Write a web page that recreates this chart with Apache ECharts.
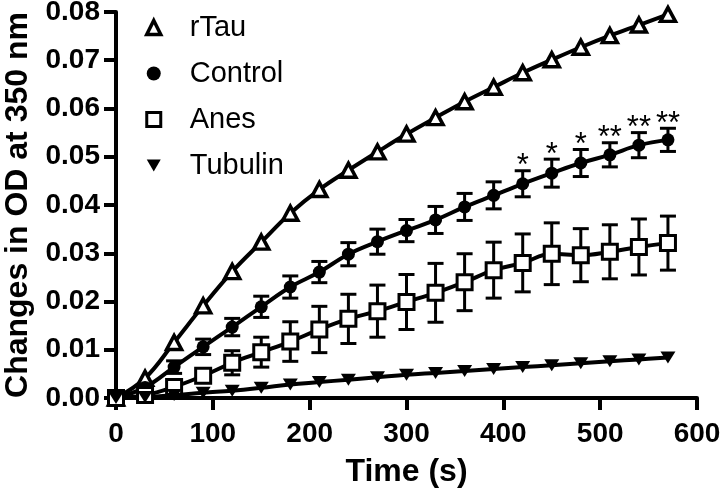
<!DOCTYPE html>
<html><head><meta charset="utf-8">
<script src="https://cdn.jsdelivr.net/npm/echarts@6/dist/echarts.min.js"></script>
<style>html,body{margin:0;padding:0;background:#fff}#c{width:720px;height:492px}</style>
</head><body><div id="c"></div>
<script>
const times = [0,30,60,90,120,150,180,210,240,270,300,330,360,390,420,450,480,510,540,570];
const xTicks = [0,100,200,300,400,500,600];
const yTicks = [0,0.01,0.02,0.03,0.04,0.05,0.06,0.07,0.08];
const rTau = [0,0.0041,0.0115,0.0191,0.0262,0.0323,0.0383,0.0432,0.0472,0.0510,0.0547,0.0581,0.0614,0.0644,0.0674,0.0701,0.0727,0.0751,0.0773,0.0795];
const control = [0,0.0022,0.0064,0.0106,0.0147,0.0189,0.0230,0.0261,0.0298,0.0324,0.0347,0.0369,0.0396,0.0420,0.0444,0.0466,0.0487,0.0504,0.0524,0.0535];
const controlErr = [0,0.0005,0.0013,0.0016,0.0018,0.0022,0.0023,0.0022,0.0024,0.0026,0.0023,0.0028,0.0028,0.0028,0.0027,0.0029,0.0028,0.0025,0.0026,0.0024];
const anes = [0,0.0006,0.0023,0.0046,0.0073,0.0095,0.0117,0.0142,0.0164,0.0180,0.0199,0.0218,0.0240,0.0265,0.0280,0.0299,0.0296,0.0303,0.0313,0.0321];
const anesErr = [0,0.0005,0.0007,0.0012,0.0025,0.0031,0.0041,0.0048,0.0051,0.0054,0.0057,0.0061,0.0059,0.0058,0.0060,0.0064,0.0055,0.0056,0.0058,0.0056];
const tubulin = [0,0.0002,0.0006,0.0011,0.0015,0.0021,0.0028,0.0033,0.0038,0.0043,0.0048,0.0052,0.0056,0.0060,0.0064,0.0068,0.0072,0.0076,0.0080,0.0084];
const starTimes = [420,450,480,510,540,570];
const starText = ['*','*','*','**','**','**'];

const FONT = 'Liberation Sans, Arial, sans-serif';
const chart = echarts.init(document.getElementById('c'), null, {renderer:'canvas'});
function pairs(v){ return times.map((t,i)=>[t, v[i]]); }
function errData(v,e){ return times.map((t,i)=>[t, v[i], e[i]]); }
function errRender(params, api){
  const x = api.value(0), y = api.value(1), e = api.value(2);
  if(!e) return null;
  const top = api.coord([x, y+e]), bot = api.coord([x, y-e]);
  const hw = 8;
  const st = {stroke:'#000', lineWidth:3};
  return {type:'group', children:[
    {type:'line', shape:{x1:top[0],y1:top[1],x2:bot[0],y2:bot[1]}, style:st},
    {type:'line', shape:{x1:top[0]-hw,y1:top[1],x2:top[0]+hw,y2:top[1]}, style:st},
    {type:'line', shape:{x1:bot[0]-hw,y1:bot[1],x2:bot[0]+hw,y2:bot[1]}, style:st}
  ]};
}
const starData = starTimes.map(t => { const i = times.indexOf(t); return [t, control[i] + controlErr[i]]; });
function starRender(params, api){
  const p = api.coord([api.value(0), api.value(1)]);
  return {type:'text', style:{text: starText[params.dataIndex], x:p[0], y:p[1]-4, align:'center', verticalAlign:'middle', font:'31px ' + FONT, fill:'#000'}};
}
function fit(name, v){
  return {name: name + ' fit', type:'line', data: pairs(v), smooth:0.4, showSymbol:false, symbol:'none', clip:false,
    lineStyle:{color:'#000', width:4}, z:2, silent:true, legendHoverLink:false};
}
function marks(name, v, symbol, size, style, rot){
  return {name:name, type:'scatter', data: pairs(v), symbol:symbol, symbolSize:size, symbolRotate: rot||0, clip:false,
    itemStyle: Object.assign({opacity:1}, style), z:5};
}
const hollow = {color:'#fff', borderColor:'#000', borderWidth:3.5, opacity:1};
const solid = {color:'#000', borderColor:'#000', borderWidth:0, opacity:1};
const option = {
  animation:false,
  backgroundColor:'#fff',
  grid:{left:116, right:23, top:12, bottom:94, outerBoundsMode:'none', containLabel:false},
  legend:{
    data:[
      {name:'rTau', icon:'triangle', itemStyle:hollow},
      {name:'Control', icon:'circle', itemStyle:solid},
      {name:'Anes', icon:'rect', itemStyle:Object.assign({}, hollow, {borderWidth:3})},
      {name:'Tubulin', icon:'path://M0,0L14,0L7,12Z', itemStyle:solid}
    ],
    orient:'vertical', left:145, top:13, padding:0,
    itemWidth:14, itemHeight:14, itemGap:17, symbolRotate:0,
    textStyle:{fontFamily:FONT, fontSize:29, color:'#000', padding:[0,0,0,24]}
  },
  xAxis:{
    type:'value', min:0, max:600, interval:100,
    name:'Time (s)', nameLocation:'middle', nameGap:58,
    nameTextStyle:{fontFamily:FONT, fontSize:32, fontWeight:'bold', color:'#000'},
    axisLine:{show:true, lineStyle:{color:'#000', width:4}},
    axisTick:{show:true, length:12, lineStyle:{color:'#000', width:4}},
    axisLabel:{margin:22, fontFamily:FONT, fontSize:28, fontWeight:'bold', color:'#000',
      customValues: xTicks},
    splitLine:{show:false}
  },
  yAxis:{
    type:'value', min:0, max:0.08, interval:0.01,
    name:'Changes in OD at 350 nm', nameLocation:'middle', nameGap:78,
    nameTextStyle:{fontFamily:FONT, fontSize:32, fontWeight:'bold', color:'#000'},
    axisLine:{show:true, lineStyle:{color:'#000', width:4}},
    axisTick:{show:true, length:12, lineStyle:{color:'#000', width:4}},
    axisLabel:{margin:16, fontFamily:FONT, fontSize:28, fontWeight:'bold', color:'#000',
      formatter: v => v.toFixed(2)},
    splitLine:{show:false}
  },
  series:[
    fit('rTau', rTau), fit('Control', control), fit('Anes', anes), fit('Tubulin', tubulin),
    {name:'Control err', type:'custom', data: errData(control, controlErr), renderItem: errRender, clip:false, z:3, encode:{x:0,y:1}, silent:true},
    {name:'Anes err', type:'custom', data: errData(anes, anesErr), renderItem: errRender, clip:false, z:3, encode:{x:0,y:1}, silent:true},
    {name:'stars', type:'custom', data: starData, renderItem: starRender, clip:false, z:6, encode:{x:0,y:1}, silent:true},
    marks('rTau', rTau, 'triangle', [15,14], hollow),
    marks('Control', control, 'circle', 13, solid),
    marks('Anes', anes, 'rect', 15, Object.assign({}, hollow, {borderWidth:3})),
    marks('Tubulin', tubulin, 'triangle', [15,12], solid, 180)
  ]
};
chart.setOption(option);
</script>
</body></html>
